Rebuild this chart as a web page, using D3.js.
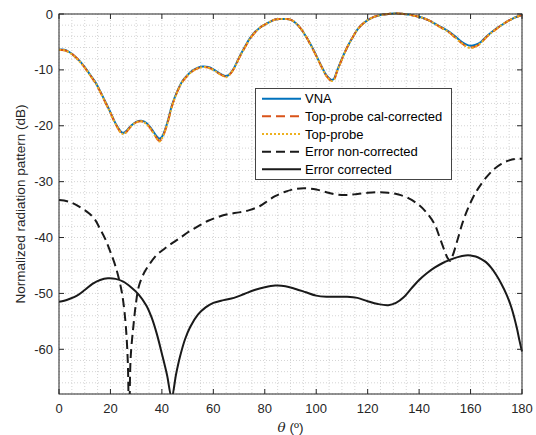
<!DOCTYPE html>
<html><head><meta charset="utf-8">
<script src="https://cdn.jsdelivr.net/npm/d3@7"></script>
<style>body{margin:0;background:#fff}svg{display:block;font-family:"Liberation Sans",Arial,sans-serif}</style>
</head><body><svg id="c" width="536" height="435"></svg>
<script>
const thetaVNA = [0,2,4,6,8,10,12,14,16,18,20,22,24,25,26,28,30,32,34,36,38,39,40,42,44,46,48,50,52,54,56,58,60,62,64,65,66,68,70,72,74,76,78,80,82,84,86,88,90,92,94,96,98,100,102,104,106,107,108,110,112,114,116,118,120,122,124,126,128,130,132,134,136,138,140,142,144,146,148,150,152,154,156,158,160,162,164,166,168,170,172,174,176,178,180];
const vna = [-6.4,-6.4,-6.8,-7.5,-8.4,-9.5,-10.8,-12.1,-13.8,-15.7,-17.6,-19.6,-21.0,-21.3,-21.0,-20.0,-19.3,-19.1,-19.5,-20.6,-21.9,-22.3,-22.0,-19.6,-16.2,-13.8,-12.0,-10.9,-10.1,-9.6,-9.4,-9.5,-9.9,-10.5,-11.0,-11.1,-10.9,-9.7,-7.8,-6.1,-4.5,-3.3,-2.5,-1.9,-1.4,-1.0,-0.9,-0.9,-1.0,-1.6,-2.6,-4.0,-5.6,-7.4,-9.3,-11.0,-11.8,-11.5,-10.3,-8.0,-6.0,-4.3,-2.8,-1.8,-1.1,-0.6,-0.3,-0.1,0,0.1,0.1,0,-0.1,-0.3,-0.5,-0.8,-1.2,-1.7,-2.2,-2.7,-3.3,-4.0,-4.8,-5.4,-5.7,-5.5,-5.0,-4.1,-3.3,-2.6,-2.0,-1.4,-0.9,-0.5,-0.2];
const calCorrected = [-6.4,-6.5,-6.8,-7.5,-8.4,-9.6,-10.9,-12.2,-13.9,-15.8,-17.7,-19.7,-21.2,-21.5,-21.2,-20.1,-19.4,-19.2,-19.6,-20.8,-22.2,-22.7,-22.3,-19.8,-16.4,-13.9,-12.1,-11.0,-10.2,-9.7,-9.5,-9.6,-10.0,-10.6,-11.1,-11.2,-11.0,-9.8,-7.9,-6.2,-4.6,-3.4,-2.5,-1.9,-1.4,-1.0,-0.9,-0.9,-1.0,-1.6,-2.6,-4.0,-5.7,-7.5,-9.4,-11.1,-12.0,-11.7,-10.4,-8.1,-6.0,-4.3,-2.8,-1.8,-1.1,-0.6,-0.3,-0.1,0,0.1,0.1,0,-0.1,-0.3,-0.5,-0.8,-1.2,-1.7,-2.3,-2.8,-3.4,-4.2,-5.0,-5.7,-6.0,-5.8,-5.2,-4.2,-3.4,-2.7,-2.0,-1.4,-0.9,-0.5,-0.2];
const topProbe = [-6.4,-6.5,-6.9,-7.6,-8.5,-9.6,-10.9,-12.2,-13.9,-15.8,-17.7,-19.7,-21.2,-21.5,-21.2,-20.1,-19.4,-19.2,-19.7,-20.8,-22.3,-22.8,-22.3,-19.8,-16.4,-13.9,-12.1,-11.0,-10.2,-9.7,-9.5,-9.6,-10.0,-10.6,-11.1,-11.3,-11.0,-9.8,-7.9,-6.2,-4.6,-3.4,-2.5,-1.9,-1.4,-1.0,-0.9,-0.9,-1.0,-1.6,-2.6,-4.0,-5.7,-7.5,-9.4,-11.1,-12.0,-11.7,-10.4,-8.1,-6.0,-4.3,-2.8,-1.8,-1.1,-0.6,-0.3,-0.1,0,0.1,0.1,0,-0.1,-0.3,-0.5,-0.8,-1.2,-1.7,-2.3,-2.8,-3.4,-4.2,-5.0,-5.7,-6.1,-5.8,-5.2,-4.2,-3.4,-2.7,-2.0,-1.4,-0.9,-0.5,-0.2];

const thetaErrNC = [0,4,8,12,14,16,18,20,22,24,25,26,26.8,27.3,27.8,29,30,31,33,35,38,41,44,47,50,54,58,62,66,70,74,78,81,84,88,92,96,100,104,108,112,116,120,124,128,132,136,140,143,146,148,150,151,152,153,155,157,159,161,163,166,169,172,175,178,180];
const errNonCorrected = [-33.3,-33.6,-34.5,-35.8,-36.8,-38.5,-40.3,-42.6,-45.2,-48.8,-51.5,-56,-63,-80,-62,-55.5,-51.5,-48.8,-46.4,-44.9,-43.1,-42,-41,-40.1,-39.1,-38,-37,-36.3,-35.8,-35.5,-35.1,-34.4,-33.5,-32.6,-31.8,-31.3,-31.2,-31.4,-31.9,-32.3,-32.4,-32.2,-32.0,-31.9,-32.0,-32.3,-33.0,-34.2,-35.6,-37.6,-40.0,-42.5,-43.6,-44.2,-43.3,-40.3,-37.2,-34.8,-32.8,-31.2,-29.3,-27.8,-26.8,-26.2,-25.9,-25.9];

const thetaErrC = [0,2,4,7,10,13,16,19,22,25,28,31,34,36,38,40,42,43.8,45.5,47,49,51,54,57,60,64,68,72,76,80,84,88,92,96,100,104,108,112,116,120,124,128,131,134,137,140,143,146,149,152,155,158,160,162,164,166,168,170,172,174,176,178,179,180];
const errCorrected = [-51.5,-51.3,-51.0,-50.4,-49.4,-48.3,-47.6,-47.3,-47.4,-47.9,-48.9,-50.2,-52.2,-54.3,-57.2,-60.8,-64.6,-68.6,-64.5,-61.4,-58.2,-56.0,-53.8,-52.5,-51.7,-51.2,-50.8,-50.1,-49.4,-48.9,-48.6,-48.7,-49.2,-49.8,-50.4,-50.6,-50.6,-50.6,-50.8,-51.4,-51.9,-52.1,-51.7,-50.7,-49.1,-47.6,-46.4,-45.4,-44.6,-44.0,-43.5,-43.2,-43.2,-43.4,-43.8,-44.4,-45.4,-46.7,-48.3,-50.2,-52.7,-56.2,-58.4,-60.4];

const xTicks = [0,20,40,60,80,100,120,140,160,180];
const yTicks = [0,-10,-20,-30,-40,-50,-60];
const seriesNames = ["VNA","Top-probe cal-corrected","Top-probe","Error non-corrected","Error corrected"];

const svg = d3.select("#c");
const L = 59, R = 522, T = 14, B = 394;
const x = d3.scaleLinear().domain([0,180]).range([L,R]);
const y = d3.scaleLinear().domain([-68,0]).range([B,T]);
const axisCol = "#262626";

const g = svg.append("g");
d3.range(0,181,5).forEach(v=>{
  g.append("line").attr("x1",x(v)).attr("x2",x(v)).attr("y1",T).attr("y2",B)
   .attr("stroke","#d4d4d4").attr("stroke-width",1).attr("stroke-dasharray","1,2");
});
d3.range(-68,0.1,2).forEach(v=>{
  g.append("line").attr("x1",L).attr("x2",R).attr("y1",y(v)).attr("y2",y(v))
   .attr("stroke","#d4d4d4").attr("stroke-width",1).attr("stroke-dasharray","1,2");
});

svg.append("defs").append("clipPath").attr("id","clip").append("rect")
  .attr("x",L).attr("y",T-2).attr("width",R-L+2).attr("height",B-T+2);

const plot = svg.append("g").attr("clip-path","url(#clip)");
function draw(xs, ys, color, dash, curve){
  const line = d3.line().x((d,i)=>x(xs[i])).y(d=>y(d)).curve(curve||d3.curveCatmullRom.alpha(0.5));
  plot.append("path").datum(ys).attr("d",line).attr("fill","none")
    .attr("stroke",color).attr("stroke-width",2).attr("stroke-dasharray",dash||null)
    .attr("stroke-linejoin","round");
}
draw(thetaVNA, vna, "#0072BD");
draw(thetaVNA, calCorrected, "#D95319", "9,5");
draw(thetaVNA, topProbe, "#EDB120", "2,2");
draw(thetaErrNC, errNonCorrected, "#1a1a1a", "9,5");
draw(thetaErrC, errCorrected, "#1a1a1a", null);

const ax = svg.append("g");
ax.append("rect").attr("x",L).attr("y",T).attr("width",R-L).attr("height",B-T)
  .attr("fill","none").attr("stroke",axisCol).attr("stroke-width",1);
xTicks.forEach(v=>{
  ax.append("line").attr("x1",x(v)).attr("x2",x(v)).attr("y1",B).attr("y2",B-5).attr("stroke",axisCol);
  ax.append("line").attr("x1",x(v)).attr("x2",x(v)).attr("y1",T).attr("y2",T+5).attr("stroke",axisCol);
  ax.append("text").attr("x",x(v)).attr("y",B+19).attr("text-anchor","middle")
    .attr("font-size",13).attr("fill",axisCol).text(v);
});
yTicks.forEach(v=>{
  ax.append("line").attr("x1",L).attr("x2",L+5).attr("y1",y(v)).attr("y2",y(v)).attr("stroke",axisCol);
  ax.append("line").attr("x1",R).attr("x2",R-5).attr("y1",y(v)).attr("y2",y(v)).attr("stroke",axisCol);
  ax.append("text").attr("x",L-6).attr("y",y(v)+4.5).attr("text-anchor","end")
    .attr("font-size",13).attr("fill",axisCol).text(v);
});
ax.append("text").attr("transform",`translate(25,${(T+B)/2}) rotate(-90)`)
  .attr("text-anchor","middle").attr("font-size",13.5).attr("fill",axisCol)
  .text("Normalized radiation pattern (dB)");
const xl = ax.append("text").attr("x",(L+R)/2).attr("y",432).attr("text-anchor","middle")
  .attr("font-size",13.5).attr("fill",axisCol);
xl.append("tspan").attr("font-style","italic").attr("font-family","'DejaVu Serif',serif").text("θ");
xl.append("tspan").text(" (º)");

const lg = svg.append("g");
lg.append("rect").attr("x",255.5).attr("y",88.5).attr("width",196).attr("height",91)
  .attr("fill","#fff").attr("stroke","#444").attr("stroke-width",1);
const lcol = ["#0072BD","#D95319","#EDB120","#1a1a1a","#1a1a1a"];
const ldash = [null,"9,5","2,2","9,5",null];
seriesNames.forEach((n,i)=>{
  const yy = 98.7 + i*17.65;
  lg.append("line").attr("x1",262).attr("x2",301).attr("y1",yy).attr("y2",yy)
    .attr("stroke",lcol[i]).attr("stroke-width",2).attr("stroke-dasharray",ldash[i]);
  lg.append("text").attr("x",305).attr("y",yy+4.5).attr("font-size",13).attr("fill","#000").text(n);
});
</script></body></html>
